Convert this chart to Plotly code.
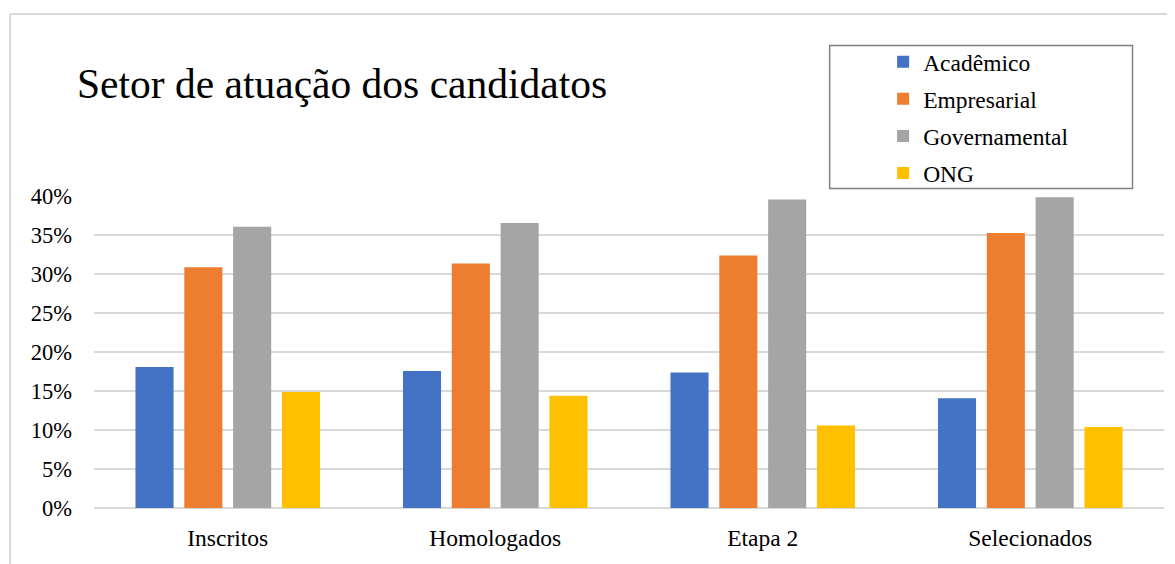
import plotly.graph_objects as go

categories = ["Inscritos", "Homologados", "Etapa 2", "Selecionados"]
academico = [0.181, 0.176, 0.174, 0.141]
empresarial = [0.309, 0.314, 0.324, 0.353]
governamental = [0.361, 0.366, 0.396, 0.399]
ong = [0.149, 0.144, 0.106, 0.104]

series_names = ["Acadêmico", "Empresarial", "Governamental", "ONG"]
series_values = [academico, empresarial, governamental, ong]
colors = ["#4472C4", "#ED7D31", "#A5A5A5", "#FFC000"]

title_text = "Setor de atuação dos candidatos"
tick_vals = [0, 0.05, 0.10, 0.15, 0.20, 0.25, 0.30, 0.35, 0.40]
tick_text = ["0%", "5%", "10%", "15%", "20%", "25%", "30%", "35%", "40%"]

FONT = "Liberation Serif, Times New Roman, serif"

fig = go.Figure()
for name, vals, col in zip(series_names, series_values, colors):
    fig.add_trace(go.Bar(
        x=categories, y=vals, name=name, marker_color=col,
        marker_line_width=0, legendgroup=name,
    ))

# page offset (browser body margin)
OFF = 8
W, H = 1175, 564
L, R, T, B = 93.5, 11, 196, 56   # in window pixel coordinates
pw = W - L - R
ph = H - T - B

def px_x(x):
    return (x - L) / pw

def px_y(y):
    return (H - B - y) / ph

FW, FH = W - OFF, H - OFF

fig.update_layout(
    width=FW, height=FH,
    margin=dict(l=L - OFF, r=R, t=T - OFF, b=B, pad=0),
    paper_bgcolor="white", plot_bgcolor="white",
    barmode="group", bargap=0.27, bargroupgap=0.22,
    font=dict(family=FONT, color="#000000"),
    title=dict(text=title_text, x=(77 - OFF) / FW, xanchor="left", xref="container",
               y=1 - (83 - OFF) / FH, yanchor="middle", yref="container",
               font=dict(family=FONT, size=41.5, color="#000000")),
    showlegend=True,
    legend=dict(
        x=px_x(883), xanchor="left", y=px_y(40), yanchor="top",
        bgcolor="rgba(0,0,0,0)", borderwidth=0,
        font=dict(family=FONT, size=23.5, color="#000000"),
        tracegroupgap=3.5, traceorder="grouped",
    ),
    xaxis=dict(
        showgrid=False, showline=False, ticks="",
        tickfont=dict(family=FONT, size=23.5, color="#000000"),
        ticklabelstandoff=13,
    ),
    yaxis=dict(
        range=[0, 0.4005], tickvals=tick_vals, ticktext=tick_text,
        showgrid=True, gridcolor="#D9D9D9", gridwidth=1.5,
        zeroline=True, zerolinecolor="#D9D9D9", zerolinewidth=1.5,
        showline=False, ticks="",
        tickfont=dict(family=FONT, size=22.5, color="#000000"),
        ticklabelstandoff=21,
    ),
    shapes=[
        # outer chart border (top and left)
        dict(type="line", xref="paper", yref="paper",
             x0=px_x(9.5), x1=px_x(1180), y0=px_y(14), y1=px_y(14),
             line=dict(color="#D9D9D9", width=2)),
        dict(type="line", xref="paper", yref="paper",
             x0=px_x(9.5), x1=px_x(9.5), y0=px_y(14), y1=px_y(570),
             line=dict(color="#D9D9D9", width=2)),
        # legend box
        dict(type="rect", xref="paper", yref="paper",
             x0=px_x(829.5), x1=px_x(1132.5), y0=px_y(188.5), y1=px_y(45.5),
             fillcolor="white", line=dict(color="#808080", width=1.5),
             layer="above"),
    ],
)

fig.write_html("out.html")
